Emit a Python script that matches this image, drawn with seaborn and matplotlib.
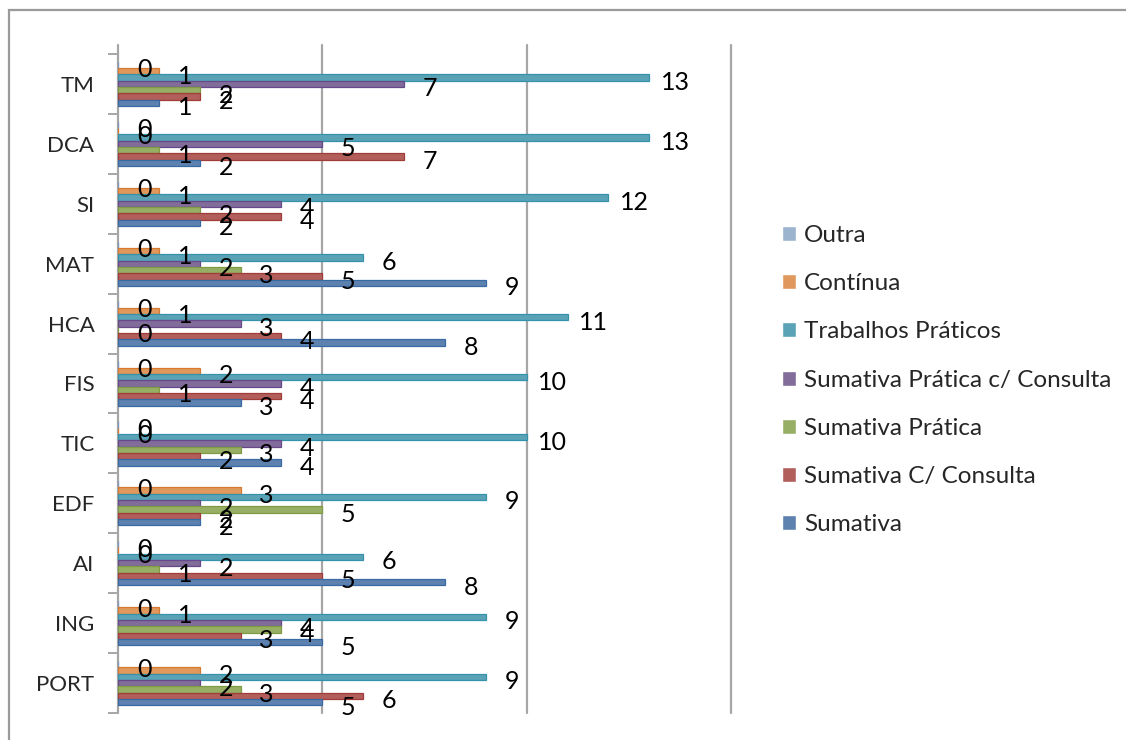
import pandas as pd
import seaborn as sns
import numpy as np
from matplotlib import pyplot
from matplotlib.patches import Rectangle

disciplinas = ['TM', 'DCA', 'SI', 'MAT', 'HCA', 'FIS', 'TIC', 'EDF', 'AI', 'ING', 'PORT']
tipos = ['Outra', 'Contínua', 'Trabalhos Práticos', 'Sumativa Prática c/ Consulta',
         'Sumativa Prática', 'Sumativa C/ Consulta', 'Sumativa']

outra = [0, 0, 0, 0, 0, 0, 0, 0, 0, 0, 0]
continua = [1, 0, 1, 1, 1, 2, 0, 3, 0, 1, 2]
trabalhos = [13, 13, 12, 6, 11, 10, 10, 9, 6, 9, 9]
sum_pratica_cons = [7, 5, 4, 2, 3, 4, 4, 2, 2, 4, 2]
sum_pratica = [2, 1, 2, 3, 0, 1, 3, 5, 1, 4, 3]
sum_consulta = [2, 7, 4, 5, 4, 4, 2, 2, 5, 3, 6]
sumativa = [1, 2, 2, 9, 8, 3, 4, 2, 8, 5, 5]

cores = ['#95B3D7', '#F79646', '#4BACC6', '#8064A2', '#9BBB59', '#C0504D', '#4F81BD']
bordas = ['#7A98BE', '#D67A30', '#3592AB', '#66498A', '#7F9C42', '#A23C39', '#3A6AA3']

series = [outra, continua, trabalhos, sum_pratica_cons, sum_pratica, sum_consulta, sumativa]
df = pd.DataFrame({
    'disciplina': np.tile(disciplinas, len(tipos)),
    'tipo': np.repeat(tipos, len(disciplinas)),
    'valor': np.concatenate(series),
})

sns.set_style('white')
pyplot.rcParams['font.family'] = ['Lato', 'DejaVu Sans']

W, H = 1126, 740
fig = pyplot.figure(figsize=(W / 100, H / 100), dpi=100, facecolor='white')
ax = fig.add_axes([118 / W, 1 - 713 / H, (731 - 118) / W, (713 - 54) / H])

sns.barplot(
    data=df, y='disciplina', x='valor', hue='tipo',
    order=disciplinas, hue_order=tipos, palette=cores,
    orient='h', width=0.74, ax=ax, legend=True, errorbar=None,
)

# rótulos de dados, ligeiramente abaixo do fim de cada barra (como no Excel)
for cont, borda in zip(ax.containers, bordas):
    for bar in cont:
        bar.set_edgecolor(borda)
        bar.set_linewidth(0.9)
        w = bar.get_width()
        yc = bar.get_y() + bar.get_height() / 2
        ax.annotate('{:d}'.format(int(round(w))), xy=(w, yc), xytext=(26, -5),
                    textcoords='offset pixels', ha='center', va='center',
                    fontsize=18, color='black')

ax.set_xlim(0, 15)
ax.set_ylim(len(disciplinas) - 0.5, -0.5)
ax.set_xlabel('')
ax.set_ylabel('')
ax.set_xticks([])
for x in [0, 5, 10, 15]:
    ax.axvline(x, ymin=0, ymax=1.013, color='#A6A6A6', lw=1.6, zorder=0, clip_on=False)

for s in ['top', 'right', 'bottom', 'left']:
    ax.spines[s].set_visible(False)

ax.set_yticks(np.arange(len(disciplinas)))
ax.set_yticklabels(disciplinas, fontsize=16)
ax.set_yticks(np.arange(len(disciplinas) + 1) - 0.5, minor=True)
ax.tick_params(axis='y', which='major', length=0, pad=17)
ax.tick_params(axis='y', which='minor', length=7, width=1.4, color='#A6A6A6', left=True)

handles, labels = ax.get_legend_handles_labels()
ax.get_legend().remove()
fig.legend(handles, labels, loc='upper left', bbox_to_anchor=(782 / W, 1 - 225 / H),
           frameon=False, fontsize=17.5, handlelength=0.58, handleheight=0.58,
           handletextpad=0.33, labelspacing=1.12, borderpad=0, borderaxespad=0)

fig.patches.append(Rectangle((9 / W, -0.1), 1.2, 1 - 10 / H + 0.1, transform=fig.transFigure,
                             fill=False, edgecolor='#9A9A9A', lw=1.6))

fig.savefig('out.png', dpi=100, facecolor='white')
